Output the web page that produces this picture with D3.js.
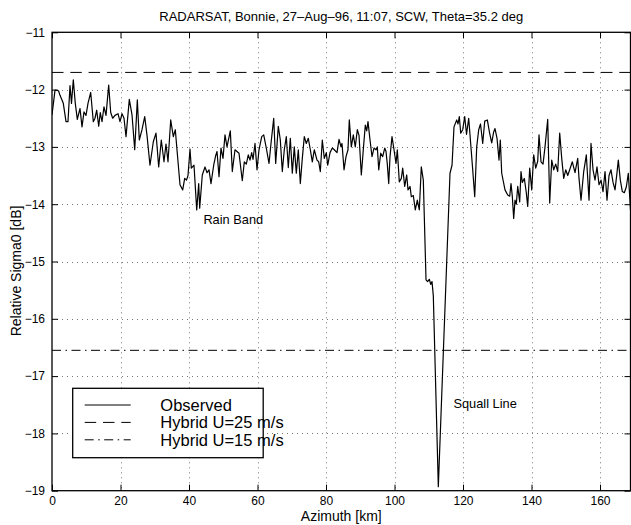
<!DOCTYPE html>
<html>
<head>
<meta charset="utf-8">
<script src="https://cdn.jsdelivr.net/npm/d3@7"></script>
<style>
  html, body { margin: 0; padding: 0; background: #fff; }
  svg { display: block; }
  text { font-family: "Liberation Sans", Arial, Helvetica, sans-serif; fill: #000; }
</style>
</head>
<body>
<svg id="chart" width="631" height="525"></svg>
<script>
// ---------------- data ----------------
const titleText = "RADARSAT, Bonnie, 27\u2013Aug\u201396, 11:07, SCW, Theta=35.2 deg";
const xLabel = "Azimuth [km]";
const yLabel = "Relative Sigma0 [dB]";
const xDomain = [0, 168.9];
const yDomain = [-19, -11];
const xTicks = [0, 20, 40, 60, 80, 100, 120, 140, 160];
const yTicks = [-19, -18, -17, -16, -15, -14, -13, -12, -11];
const hybridU25 = -11.7;
const hybridU15 = -16.55;
const legendLabels = ["Observed", "Hybrid U=25 m/s", "Hybrid U=15 m/s"];
const annotations = [
  { text: "Rain Band", x: 44.2, y: -14.35 },
  { text: "Squall Line", x: 117.2, y: -17.55 }
];
// observed relative sigma0 [azimuth km, dB]
const observed = [
  [0.0,-12.44],[0.88,-12.01],[1.90,-12.02],[2.34,-12.10],[3.30,-12.24],[4.09,-12.56],[4.67,-12.56],
  [5.26,-11.93],[5.69,-12.24],[6.22,-11.83],[6.80,-12.24],[7.39,-12.52],[8.18,-12.33],[8.76,-12.65],
  [9.34,-12.39],[9.93,-12.45],[10.51,-12.24],[11.30,-12.05],[12.06,-12.56],[12.55,-12.50],[13.05,-12.36],
  [13.64,-12.64],[14.10,-12.40],[14.60,-12.56],[15.18,-12.30],[15.77,-12.45],[16.55,-11.92],[17.14,-12.40],
  [17.72,-12.50],[18.39,-12.45],[19.27,-12.42],[19.85,-12.56],[20.44,-12.42],[21.02,-12.50],[21.61,-12.82],
  [22.57,-12.17],[23.36,-12.44],[24.15,-13.05],[24.91,-12.18],[25.49,-12.88],[26.28,-12.70],[27.07,-12.47],
  [27.74,-12.80],[28.61,-13.32],[29.58,-12.91],[30.36,-12.76],[31.15,-13.35],[31.91,-12.88],[32.70,-13.26],
  [33.28,-12.95],[33.87,-13.26],[34.66,-12.53],[35.42,-12.82],[36.00,-12.70],[36.58,-13.11],[37.37,-13.66],
  [38.16,-13.75],[38.74,-13.55],[39.27,-13.58],[39.71,-13.50],[40.29,-13.04],[40.67,-13.37],[41.46,-13.32],
  [42.25,-14.10],[42.83,-13.64],[43.12,-14.07],[43.88,-13.49],[44.67,-13.35],[45.26,-13.45],[45.84,-13.40],
  [46.42,-13.64],[47.21,-13.32],[47.80,-13.15],[48.18,-13.08],[48.76,-13.52],[49.34,-13.02],[49.93,-13.20],
  [50.51,-12.79],[51.09,-13.00],[52.06,-12.72],[52.64,-13.43],[53.43,-13.05],[54.01,-13.08],[54.60,-13.11],
  [55.56,-13.59],[56.15,-13.26],[56.73,-13.30],[57.31,-13.14],[57.81,-13.23],[58.31,-13.10],[58.69,-13.22],
  [59.27,-12.94],[59.85,-13.40],[60.44,-13.05],[61.23,-12.82],[61.81,-12.79],[62.57,-13.02],[63.36,-13.29],
  [63.94,-12.94],[64.73,-12.50],[65.31,-13.29],[66.07,-12.64],[66.66,-12.88],[67.24,-13.43],[67.82,-13.05],
  [68.41,-12.82],[68.99,-13.36],[69.58,-12.85],[70.16,-13.46],[70.74,-13.00],[71.33,-13.46],[71.91,-13.05],
  [72.50,-13.64],[73.08,-13.20],[73.66,-12.82],[74.25,-12.94],[74.83,-12.85],[75.42,-13.05],[76.00,-13.26],
  [76.58,-13.05],[77.37,-13.23],[77.87,-13.26],[78.34,-13.43],[78.92,-12.88],[79.50,-13.20],[80.09,-13.10],
  [80.50,-13.32],[81.17,-13.10],[81.84,-13.02],[82.42,-13.05],[83.21,-13.10],[83.80,-12.87],[84.38,-13.00],
  [84.67,-12.94],[85.26,-13.40],[85.84,-13.17],[86.42,-13.05],[86.80,-12.53],[87.39,-13.00],[87.97,-12.79],
  [88.55,-13.00],[89.14,-12.70],[89.64,-12.80],[90.31,-13.49],[90.89,-13.05],[91.47,-12.62],[91.88,-12.72],
  [92.26,-12.56],[92.85,-12.88],[93.43,-13.17],[94.01,-13.02],[94.60,-13.05],[94.98,-13.00],[95.39,-13.40],
  [95.97,-13.11],[96.55,-13.17],[97.14,-13.02],[97.52,-13.08],[97.90,-13.30],[98.31,-13.64],[98.69,-13.17],
  [99.27,-12.82],[99.85,-13.05],[100.44,-13.29],[100.82,-13.05],[101.40,-13.61],[101.99,-13.55],[102.39,-13.37],
  [102.98,-13.69],[103.56,-13.49],[103.94,-13.75],[104.53,-13.69],[104.91,-13.87],[105.49,-13.85],[106.07,-14.10],
  [106.66,-13.93],[107.24,-14.10],[107.82,-13.35],[108.41,-13.58],[109.20,-15.32],[109.64,-15.35],[110.16,-15.31],
  [110.57,-15.40],[110.95,-15.35],[111.33,-15.60],[112.79,-18.93],[115.18,-15.10],[116.20,-13.46],[116.79,-13.32],
  [117.37,-12.65],[118.16,-12.53],[118.54,-12.60],[118.92,-12.47],[119.33,-12.76],[119.91,-12.70],[120.50,-12.47],
  [121.02,-12.78],[121.66,-12.50],[122.25,-12.95],[122.83,-13.40],[123.42,-13.87],[124.00,-13.00],[124.58,-12.70],
  [125.11,-12.60],[125.75,-12.94],[126.34,-12.55],[127.10,-12.53],[127.74,-12.75],[128.38,-12.93],[128.91,-12.75],
  [129.34,-12.68],[129.93,-12.85],[130.51,-13.23],[130.89,-12.88],[131.30,-13.46],[132.26,-13.75],[133.05,-13.84],
  [133.64,-13.86],[134.01,-13.64],[134.39,-13.86],[134.80,-14.25],[135.18,-13.93],[135.56,-14.00],[135.97,-13.69],
  [136.55,-13.96],[136.93,-13.43],[137.31,-13.62],[137.90,-13.55],[138.48,-13.80],[138.89,-14.04],[139.47,-13.37],
  [140.06,-13.75],[140.64,-13.14],[141.23,-13.37],[141.81,-13.25],[142.19,-12.79],[142.77,-13.26],[143.36,-13.30],
  [143.94,-13.00],[144.73,-12.52],[145.31,-13.98],[145.90,-13.23],[146.48,-13.40],[147.07,-13.30],[147.65,-13.43],
  [148.23,-12.76],[148.82,-13.20],[149.40,-13.55],[149.99,-13.40],[150.57,-13.50],[151.15,-13.40],[151.91,-13.26],
  [152.70,-13.45],[153.49,-13.20],[153.87,-13.55],[154.45,-13.93],[155.24,-13.43],[156.00,-13.14],[156.79,-13.93],
  [157.37,-12.94],[157.96,-13.40],[158.54,-13.58],[159.12,-13.35],[159.71,-13.66],[160.29,-13.58],[160.88,-13.78],
  [161.46,-13.43],[162.04,-13.93],[162.63,-13.50],[163.21,-13.40],[163.80,-13.62],[164.38,-13.75],[164.96,-13.45],
  [165.34,-13.23],[165.93,-13.58],[166.51,-13.78],[167.09,-13.80],[167.68,-13.70],[168.26,-13.46],[168.9,-14.10]
];

// ---------------- layout ----------------
const svg = d3.select("#chart");
const W = 631, H = 525;
const m = { left: 52, right: 0.5, top: 32.3, bottom: 34.3 };
const pw = W - m.left - m.right, ph = H - m.top - m.bottom;

const x = d3.scaleLinear().domain(xDomain).range([m.left, m.left + pw]);
const y = d3.scaleLinear().domain(yDomain).range([m.top + ph, m.top]);

svg.append("rect").attr("width", W).attr("height", H).attr("fill", "#fff");

// clip
svg.append("defs").append("clipPath").attr("id", "clip")
  .append("rect").attr("x", m.left).attr("y", m.top).attr("width", pw).attr("height", ph);

// grid
const grid = svg.append("g").attr("stroke", "#777").attr("stroke-width", 1).attr("stroke-dasharray", "1,4");
grid.selectAll("line.v").data(xTicks.filter(t => t > xDomain[0])).join("line")
  .attr("x1", d => Math.round(x(d)) + 0.5).attr("x2", d => Math.round(x(d)) + 0.5)
  .attr("y1", m.top).attr("y2", m.top + ph);
grid.selectAll("line.h").data(yTicks.filter(t => t > yDomain[0] && t < yDomain[1])).join("line")
  .attr("y1", d => Math.round(y(d)) + 0.5).attr("y2", d => Math.round(y(d)) + 0.5)
  .attr("x1", m.left).attr("x2", m.left + pw);

// reference lines
const plot = svg.append("g").attr("clip-path", "url(#clip)");
plot.append("line").attr("x1", x(xDomain[0])).attr("x2", x(xDomain[1]))
  .attr("y1", y(hybridU25)).attr("y2", y(hybridU25))
  .attr("stroke", "#000").attr("stroke-width", 1).attr("stroke-dasharray", "11.5,6.8");
plot.append("line").attr("x1", x(xDomain[0])).attr("x2", x(xDomain[1]))
  .attr("y1", y(hybridU15)).attr("y2", y(hybridU15))
  .attr("stroke", "#000").attr("stroke-width", 1).attr("stroke-dasharray", "9,4.5,1.5,4.5");

// observed
const line = d3.line().x(d => x(d[0])).y(d => y(d[1]));
plot.append("path").datum(observed).attr("d", line)
  .attr("fill", "none").attr("stroke", "#000").attr("stroke-width", 1.2).attr("stroke-linejoin", "round");

// axes
const fmt = d3.format("");
const axB = svg.append("g").attr("transform", `translate(0,${m.top + ph})`)
  .call(d3.axisBottom(x).tickValues(xTicks).tickFormat(fmt).tickSizeInner(-6).tickSizeOuter(0).tickPadding(6));
const axT = svg.append("g").attr("transform", `translate(0,${m.top})`)
  .call(d3.axisTop(x).tickValues(xTicks).tickFormat("").tickSizeInner(-6).tickSizeOuter(0));
const axL = svg.append("g").attr("transform", `translate(${m.left},0)`)
  .call(d3.axisLeft(y).tickValues(yTicks).tickFormat(fmt).tickSizeInner(-6).tickSizeOuter(0).tickPadding(7));
const axR = svg.append("g").attr("transform", `translate(${m.left + pw},0)`)
  .call(d3.axisRight(y).tickValues(yTicks).tickFormat("").tickSizeInner(-6).tickSizeOuter(0));
[axB, axT, axL, axR].forEach(a => {
  a.select(".domain").remove();
  a.selectAll(".tick line").attr("stroke", "#000").attr("stroke-width", 1);
  a.selectAll("text").attr("font-size", 12).attr("font-family", '"Liberation Sans", Arial, sans-serif').attr("fill", "#000");
});
// frame
svg.append("rect").attr("x", m.left).attr("y", m.top).attr("width", pw).attr("height", ph)
  .attr("fill", "none").attr("stroke", "#000").attr("stroke-width", 1.3);

// title & labels
svg.append("text").attr("x", m.left + pw / 2).attr("y", 21).attr("text-anchor", "middle")
  .attr("font-size", 13).text(titleText);
svg.append("text").attr("x", m.left + pw / 2).attr("y", 521).attr("text-anchor", "middle")
  .attr("font-size", 14).text(xLabel);
svg.append("text").attr("transform", `translate(21,271) rotate(-90)`).attr("text-anchor", "middle")
  .attr("font-size", 14).text(yLabel);

// annotations
svg.selectAll("text.ann").data(annotations).join("text").attr("class", "ann")
  .attr("x", d => x(d.x)).attr("y", d => y(d.y)).attr("font-size", 12.8).text(d => d.text);

// legend
const lg = svg.append("g");
const lx = 72.7, ly = 388.3, lw = 190.5, lh = 69.4;
lg.append("rect").attr("x", lx).attr("y", ly).attr("width", lw).attr("height", lh)
  .attr("fill", "#fff").attr("stroke", "#000").attr("stroke-width", 1.3);
const dashes = [null, "11.5,6.8", "9,4.5,1.5,4.5"];
legendLabels.forEach((lab, i) => {
  const yy = ly + 16.7 + i * 17.4;
  lg.append("line").attr("x1", lx + 12).attr("x2", lx + 58).attr("y1", yy).attr("y2", yy)
    .attr("stroke", "#000").attr("stroke-width", 1).attr("stroke-dasharray", dashes[i]);
  lg.append("text").attr("x", lx + 87.6).attr("y", yy + 6).attr("font-size", 16.5).text(lab);
});
</script>
</body>
</html>
